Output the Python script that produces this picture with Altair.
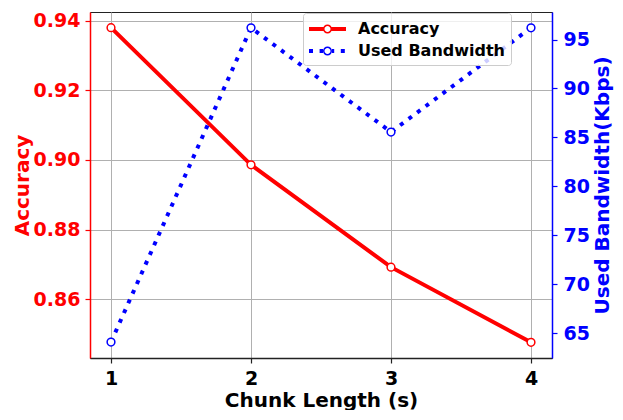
import altair as alt
import pandas as pd

# ---- data ----
chunk = [1, 2, 3, 4]
accuracy = [0.938, 0.8986, 0.8692, 0.8476]
bandwidth = [64.1, 96.2, 85.55, 96.2]
series_names = ["Accuracy", "Used Bandwidth"]
x_ticks = [1, 2, 3, 4]
acc_ticks = [0.86, 0.88, 0.90, 0.92, 0.94]
bw_ticks = [65, 70, 75, 80, 85, 90, 95]

RED = "#ff0000"
BLUE = "#0000ff"
FONT = "DejaVu Sans"

df = pd.DataFrame({"chunk": chunk, "accuracy": accuracy, "bandwidth": bandwidth})
legend_df = pd.DataFrame({"series": series_names})

W, H = 462, 346

# legend symbols: line + open circle marker (unit = 10px)
ring = ("M1.3,0A0.45,0.45 0 1,1 0.4,0A0.45,0.45 0 1,1 1.3,0Z "
        "M1.15,0A0.3,0.3 0 1,0 0.55,0A0.3,0.3 0 1,0 1.15,0Z")
path_acc = "M-1,-0.2H0.44V0.2H-1Z M1.26,-0.2H2.7V0.2H1.26Z " + ring
path_bw = ("M-1,-0.2H-0.6V0.2H-1Z M0.06,-0.2H0.4V0.2H0.06Z "
           "M1.3,-0.2H1.52V0.2H1.3Z M2.18,-0.2H2.58V0.2H2.18Z " + ring)

x_enc = alt.X(
    "chunk:Q",
    scale=alt.Scale(domain=[0.85, 4.15], nice=False, zero=False),
    axis=alt.Axis(values=x_ticks, format="d", title="Chunk Length (s)",
                  grid=True, labelColor="black", titleColor="black",
                  domainColor="#222222", domainWidth=1.5, tickColor="#222222",
                  tickWidth=1.2, labelPadding=6, titleY=32, titleBaseline="top",
                  labelFlush=False),
)

acc_y = alt.Y(
    "accuracy:Q",
    scale=alt.Scale(domain=[0.8431, 0.9425], nice=False, zero=False),
    axis=alt.Axis(orient="left", values=acc_ticks, format=".2f", title="Accuracy",
                  grid=True, labelColor=RED, titleColor=RED, domainColor=RED,
                  domainWidth=1.5, tickColor=RED, tickWidth=1.2, labelPadding=5,
                  titleAngle=270, titleBaseline="bottom", titleX=-58, titleY=H / 2),
)

bw_y = alt.Y(
    "bandwidth:Q",
    scale=alt.Scale(domain=[62.47, 97.81], nice=False, zero=False),
    axis=alt.Axis(orient="right", values=bw_ticks, format="d",
                  title="Used Bandwidth(Kbps)", grid=False, labelColor=BLUE,
                  titleColor=BLUE, domainColor=BLUE, domainWidth=1.5,
                  tickColor=BLUE, tickWidth=1.2, labelPadding=6,
                  titleAngle=270, titleBaseline="top", titleX=40, titleY=H / 2),
)

base = alt.Chart(df)

acc_line = base.mark_line(color=RED, strokeWidth=4).encode(x=x_enc, y=acc_y)
acc_pts = base.mark_point(shape="circle", filled=True, fill="white", stroke=RED,
                          strokeWidth=1.5, size=60, opacity=1).encode(x=x_enc, y=acc_y)
acc_layer = alt.layer(acc_line, acc_pts)

bw_line = base.mark_line(color=BLUE, strokeWidth=4, strokeDash=[4, 6.6]).encode(x=x_enc, y=bw_y)
bw_pts = base.mark_point(shape="circle", filled=True, fill="white", stroke=BLUE,
                         strokeWidth=1.5, size=60, opacity=1).encode(x=x_enc, y=bw_y)
bw_layer = alt.layer(bw_line, bw_pts)

leg = alt.Legend(
    title=None, orient="none", legendX=213, legendY=1, direction="vertical",
    symbolSize=400, symbolStrokeWidth=0, symbolOpacity=1, labelOffset=29,
    labelFont=FONT, labelFontSize=16, labelFontWeight="bold", labelColor="black",
    labelLimit=400, padding=6, rowPadding=4, fillColor="rgba(255,255,255,0.8)",
    strokeColor="#cccccc", cornerRadius=3,
)

legend_layer = alt.Chart(legend_df).transform_filter("false").mark_point(
    filled=True, opacity=1, size=400
).encode(
    color=alt.Color("series:N", scale=alt.Scale(domain=series_names, range=[RED, BLUE]), legend=leg),
    shape=alt.Shape("series:N", scale=alt.Scale(domain=series_names, range=[path_acc, path_bw]), legend=leg),
)

chart = alt.layer(acc_layer, bw_layer, legend_layer).resolve_scale(
    y="independent"
).properties(
    width=W, height=H,
    padding={"left": 82, "right": 63, "top": 4, "bottom": 52},
    autosize=alt.AutoSizeParams(type="none"),
).configure_view(
    stroke="#222222", strokeWidth=1
).configure_axis(
    labelFont=FONT, titleFont=FONT, labelFontWeight="bold", titleFontWeight="bold",
    labelFontSize=19, titleFontSize=20, gridColor="#b0b0b0", gridWidth=1, tickSize=5,
)

chart.save("out.html", embed_options={"renderer": "svg", "actions": False})
